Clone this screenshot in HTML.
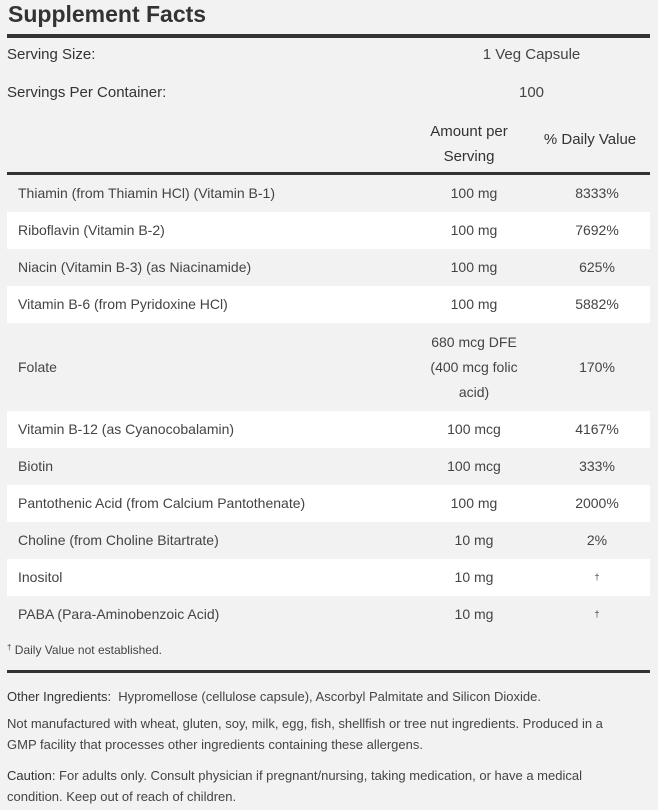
<!DOCTYPE html>
<html><head><style>
body{margin:0;width:658px;height:810px;background:#f2f2f2;font-family:"Liberation Sans",sans-serif;color:#333;position:relative;overflow:hidden}
.a{position:absolute}
.bar{position:absolute;left:7px;width:643px;background:#333}
.row{position:absolute;left:7px;width:643px;height:37px}
.row.w{background:#fff}
.row span{position:absolute;top:0;line-height:37px;font-size:14px;color:#444}
.n{left:11px}
.m{left:402px;width:130px;text-align:center}
.d{left:535px;width:110px;text-align:center}
.t{font-size:14px;color:#444}
</style></head><body>
<div class="a" style="left:8px;top:1px;font-size:23px;font-weight:bold;color:#333">Supplement Facts</div>
<div class="bar" style="top:34px;height:4px"></div>
<div class="a" style="left:7px;top:46px;font-size:15px;color:#333">Serving Size:</div>
<div class="a" style="left:409px;width:245px;text-align:center;top:46px;font-size:15px;color:#444">1 Veg Capsule</div>
<div class="a" style="left:7px;top:84px;font-size:15px;color:#333">Servings Per Container:</div>
<div class="a" style="left:409px;width:245px;text-align:center;top:84px;font-size:15px;color:#444">100</div>
<div class="a" style="left:409px;width:120px;text-align:center;top:119px;font-size:15px;line-height:25px;color:#333">Amount per<br>Serving</div>
<div class="a" style="left:535px;width:110px;text-align:center;top:131px;font-size:15px;color:#333">% Daily Value</div>
<div class="bar" style="top:172px;height:3px"></div>

<div class="row" style="top:175px"><span class="n">Thiamin (from Thiamin HCl) (Vitamin B-1)</span><span class="m">100 mg</span><span class="d">8333%</span></div>
<div class="row w" style="top:212px"><span class="n">Riboflavin (Vitamin B-2)</span><span class="m">100 mg</span><span class="d">7692%</span></div>
<div class="row" style="top:249px"><span class="n">Niacin (Vitamin B-3) (as Niacinamide)</span><span class="m">100 mg</span><span class="d">625%</span></div>
<div class="row w" style="top:286px"><span class="n">Vitamin B-6 (from Pyridoxine HCl)</span><span class="m">100 mg</span><span class="d">5882%</span></div>
<div class="row" style="top:324px;height:87px"><span class="n" style="line-height:87px">Folate</span><span class="m" style="line-height:25px;top:6px">680 mcg DFE<br>(400 mcg folic<br>acid)</span><span class="d" style="line-height:87px">170%</span></div>
<div class="row w" style="top:411px"><span class="n">Vitamin B-12 (as Cyanocobalamin)</span><span class="m">100 mcg</span><span class="d">4167%</span></div>
<div class="row" style="top:448px"><span class="n">Biotin</span><span class="m">100 mcg</span><span class="d">333%</span></div>
<div class="row w" style="top:485px"><span class="n">Pantothenic Acid (from Calcium Pantothenate)</span><span class="m">100 mg</span><span class="d">2000%</span></div>
<div class="row" style="top:522px"><span class="n">Choline (from Choline Bitartrate)</span><span class="m">10 mg</span><span class="d">2%</span></div>
<div class="row w" style="top:559px"><span class="n">Inositol</span><span class="m">10 mg</span><span class="d" style="font-size:9px">†</span></div>
<div class="row" style="top:596px"><span class="n">PABA (Para-Aminobenzoic Acid)</span><span class="m">10 mg</span><span class="d" style="font-size:9px">†</span></div>

<div class="a" style="left:7px;top:643px;font-size:12px;color:#444"><span style="font-size:8px;vertical-align:top">†</span> Daily Value not established.</div>
<div class="bar" style="top:670px;height:3px"></div>
<div class="a t" style="left:7px;top:689px;font-size:13px"><span style="color:#333">Other Ingredients:</span>&nbsp; Hypromellose (cellulose capsule), Ascorbyl Palmitate and Silicon Dioxide.</div>
<div class="a t" style="left:7px;top:713px;width:625px;font-size:13px;line-height:21px">Not manufactured with wheat, gluten, soy, milk, egg, fish, shellfish or tree nut ingredients. Produced in a GMP facility that processes other ingredients containing these allergens.</div>
<div class="a t" style="left:7px;top:765px;width:620px;font-size:13px;line-height:21px"><span style="color:#333">Caution</span>: For adults only. Consult physician if pregnant/nursing, taking medication, or have a medical condition. Keep out of reach of children.</div>
</body></html>
